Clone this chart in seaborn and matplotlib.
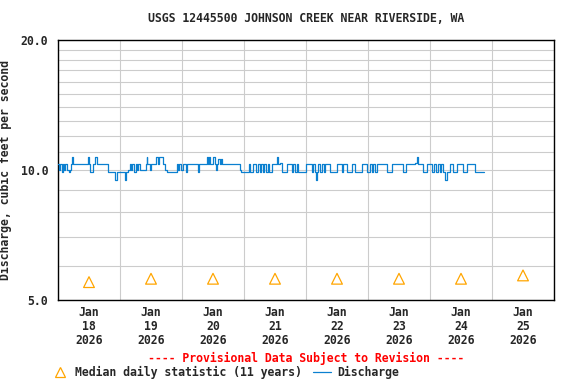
import matplotlib
matplotlib.use("Agg")
import pandas as pd
import matplotlib.pyplot as plt
from matplotlib.lines import Line2D
from matplotlib.ticker import FixedLocator, NullFormatter
import seaborn as sns

# discharge change points (hours after 2026-01-18 00:00) and values (cfs)
flow_hours = [
    0.0, 0.5, 0.8, 1.4, 1.8, 2.4, 2.8, 3.4, 4.4, 4.8,
    5.0, 5.5, 5.8, 11.7, 12.0, 12.2, 12.4, 13.7, 14.3, 15.0,
    19.5, 22.1, 23.0, 25.9, 26.3, 27.0, 27.9, 28.4, 28.8, 29.5,
    30.0, 30.6, 31.0, 31.7, 34.1, 34.3, 34.6, 35.6, 36.1, 37.9,
    38.8, 39.2, 40.5, 41.4, 42.1, 45.9, 46.6, 47.0, 47.8, 48.2,
    49.4, 49.8, 54.3, 54.6, 57.5, 58.2, 58.5, 58.8, 60.1, 60.8,
    61.3, 61.6, 62.1, 62.6, 63.1, 63.5, 70.4, 70.8, 73.8, 74.4,
    75.6, 76.5, 77.3, 78.0, 78.6, 79.2, 79.8, 80.5, 81.2, 81.8,
    83.0, 84.6, 85.0, 85.9, 86.6, 88.5, 90.5, 91.1, 91.7, 92.4,
    93.0, 96.0, 98.2, 98.8, 99.4, 99.9, 100.1, 100.8, 101.5, 102.2,
    102.8, 103.4, 105.3, 107.9, 109.8, 110.5, 111.7, 113.7, 115.0, 117.6,
    119.5, 120.8, 121.5, 122.0, 122.8, 123.3, 127.2, 129.2, 133.7, 134.7,
    138.2, 138.8, 139.5, 141.4, 142.7, 144.6, 145.5, 146.3, 147.0, 147.8,
    148.4, 149.2, 149.8, 150.5, 151.7, 153.0, 154.3, 156.9, 158.2, 161.4, 165.0,
]
flow_cfs = [
    10.3, 10.0, 10.3, 9.9, 10.3, 10.0, 10.3, 10.0, 9.9, 10.0,
    10.3, 10.7, 10.3, 10.7, 10.3, 10.0, 9.9, 10.3, 10.7, 10.3,
    9.9, 9.5, 9.9, 9.5, 9.9, 10.0, 10.3, 10.0, 10.3, 9.9,
    10.3, 10.0, 10.3, 10.0, 10.3, 10.7, 10.3, 10.0, 10.3, 10.7,
    10.3, 10.7, 10.3, 10.0, 9.9, 10.3, 10.0, 10.3, 10.0, 10.3,
    9.9, 10.3, 9.9, 10.3, 10.7, 10.3, 10.7, 10.3, 10.7, 10.3,
    10.0, 10.3, 10.6, 10.3, 10.6, 10.3, 10.0, 9.9, 10.3, 9.9,
    10.3, 9.9, 10.3, 9.9, 10.3, 9.9, 10.3, 9.9, 10.3, 9.9,
    10.3, 10.7, 10.3, 10.4, 9.9, 10.3, 9.9, 10.3, 9.9, 10.3,
    9.9, 10.3, 9.9, 10.3, 9.9, 9.5, 9.9, 10.3, 9.9, 10.3,
    9.9, 10.3, 9.9, 10.3, 9.9, 10.3, 9.9, 10.3, 9.9, 10.3,
    9.9, 10.3, 9.9, 10.3, 9.9, 10.3, 9.9, 10.3, 9.9, 10.3,
    10.4, 10.7, 10.3, 9.9, 10.3, 9.9, 10.3, 9.9, 10.3, 9.9,
    10.3, 9.9, 9.5, 9.9, 10.3, 9.9, 10.3, 9.9, 10.3, 9.9, 9.9,
]

median_days = ["2026-01-18", "2026-01-19", "2026-01-20", "2026-01-21",
               "2026-01-22", "2026-01-23", "2026-01-24", "2026-01-25"]
median_cfs = [5.5, 5.6, 5.6, 5.6, 5.6, 5.6, 5.6, 5.7]
day_labels = ["Jan\n18\n2026", "Jan\n19\n2026", "Jan\n20\n2026", "Jan\n21\n2026",
              "Jan\n22\n2026", "Jan\n23\n2026", "Jan\n24\n2026", "Jan\n25\n2026"]

blue = "#0b80d0"
orange = "#ffa500"
fs = 8.3

sns.set_style("white")
plt.rcParams["font.family"] = ["DejaVu Sans Mono"]
plt.rcParams["font.weight"] = "bold"
plt.rcParams["axes.labelweight"] = "bold"

start = pd.Timestamp("2026-01-18")
flow = pd.DataFrame({"time": start + pd.to_timedelta(flow_hours, unit="h"),
                     "cfs": flow_cfs})
med = pd.DataFrame({"time": pd.to_datetime(median_days) + pd.Timedelta(hours=12),
                    "cfs": median_cfs})

fig = plt.figure(figsize=(5.76, 3.84), dpi=100)
ax = fig.add_axes([58 / 576, 1 - 300 / 384, 496 / 576, 260 / 384])

sns.lineplot(data=flow, x="time", y="cfs", drawstyle="steps-post",
             color=blue, linewidth=0.9, ax=ax, zorder=3)
sns.scatterplot(data=med, x="time", y="cfs", marker="^", s=60,
                facecolor="none", edgecolor=orange, linewidth=0.9,
                ax=ax, zorder=4)

# y axis: log scale 5-20
ax.set_yscale("log")
ax.set_ylim(5, 20)
ax.yaxis.set_major_locator(FixedLocator([5, 10, 20]))
ax.set_yticklabels(["5.0", "10.0", "20.0"], fontsize=fs)
ax.yaxis.set_minor_locator(FixedLocator([6, 7, 8, 9] + list(range(11, 20))))
ax.yaxis.set_minor_formatter(NullFormatter())

# x axis: gridlines at midnight, labels at noon
days = pd.date_range("2026-01-18", "2026-01-26", freq="D")
noons = pd.to_datetime(median_days) + pd.Timedelta(hours=12)
ax.set_xlim(days[0], days[-1])
ax.set_xticks(list(days))
ax.set_xticklabels([""] * len(days))
ax.set_xticks(list(noons), minor=True)
ax.set_xticklabels(day_labels, minor=True, fontsize=fs, linespacing=1.1)

ax.tick_params(which="both", length=0)
ax.tick_params(axis="y", pad=7)
ax.tick_params(axis="x", which="minor", pad=4)
ax.grid(True, which="both", axis="y", color="#cccccc", linewidth=0.8)
ax.grid(True, which="major", axis="x", color="#cccccc", linewidth=0.8)
for sp in ax.spines.values():
    sp.set_color("black")
    sp.set_linewidth(1.0)

ax.set_xlabel("")
ax.set_ylabel("Discharge, cubic feet per second", fontsize=fs, fontweight="bold")
ax.yaxis.set_label_coords(-46 / 496, 0.5)

fig.text(0.531, 1 - 19 / 384, "USGS 12445500 JOHNSON CREEK NEAR RIVERSIDE, WA",
         ha="center", va="center", fontsize=fs)
fig.text(0.531, 1 - 358 / 384, "---- Provisional Data Subject to Revision ----",
         ha="center", va="center", fontsize=fs, color="red")

# legend row
ly = 1 - 372 / 384
fig.add_artist(Line2D([60 / 576], [ly], marker="^", markersize=7.5,
                      markerfacecolor="none", markeredgecolor=orange,
                      markeredgewidth=0.9, linestyle="none"))
fig.text(75 / 576, ly, "Median daily statistic (11 years)",
         ha="left", va="center", fontsize=fs)
fig.add_artist(Line2D([313 / 576, 331 / 576], [ly, ly], color=blue, linewidth=0.9))
fig.text(337 / 576, ly, "Discharge", ha="left", va="center", fontsize=fs)

fig.savefig("out.png", dpi=100)
